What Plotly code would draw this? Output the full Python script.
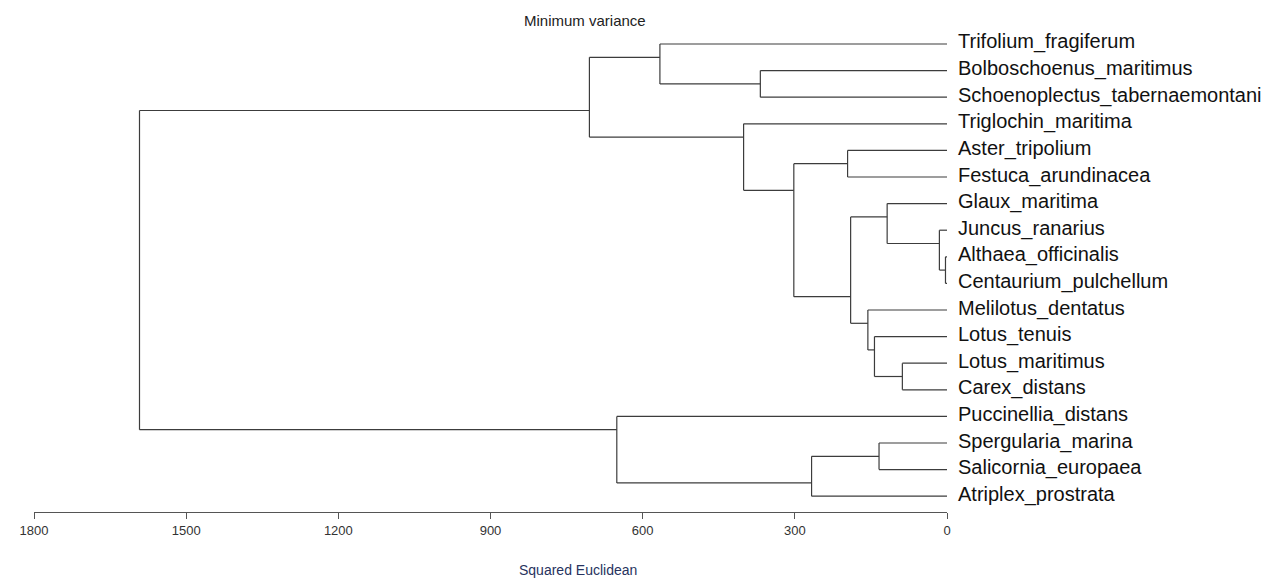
import plotly.graph_objects as go

# ---- data ----
leaf_names = [
    "Trifolium_fragiferum", "Bolboschoenus_maritimus", "Schoenoplectus_tabernaemontani",
    "Triglochin_maritima", "Aster_tripolium", "Festuca_arundinacea", "Glaux_maritima",
    "Juncus_ranarius", "Althaea_officinalis", "Centaurium_pulchellum", "Melilotus_dentatus",
    "Lotus_tenuis", "Lotus_maritimus", "Carex_distans", "Puccinellia_distans",
    "Spergularia_marina", "Salicornia_europaea", "Atriplex_prostrata",
]
# merges: children are leaf names or earlier cluster ids "c<k>"
merge_left = [
    "Althaea_officinalis", "Juncus_ranarius", "Glaux_maritima", "Lotus_maritimus",
    "Lotus_tenuis", "Melilotus_dentatus", "c2", "Aster_tripolium", "c7",
    "Triglochin_maritima", "Bolboschoenus_maritimus", "Trifolium_fragiferum", "c11",
    "Spergularia_marina", "c13", "Puccinellia_distans", "c12",
]
merge_right = [
    "Centaurium_pulchellum", "c0", "c1", "Carex_distans", "c3", "c4", "c5",
    "Festuca_arundinacea", "c6", "c8", "Schoenoplectus_tabernaemontani", "c10", "c9",
    "Salicornia_europaea", "Atriplex_prostrata", "c14", "c15",
]
merge_height = [3, 15, 118, 88, 143, 156, 190, 196, 302, 401, 368, 566, 705,
                134, 267, 651, 1592]

x_ticks = [1800, 1500, 1200, 900, 600, 300, 0]

# ---- dendrogram geometry ----
pos, height, span = {}, {}, {}
for i, n in enumerate(leaf_names):
    pos[n], height[n], span[n] = i, 0.0, (i, i)

xs, ys = [], []
for k, (a, b, h) in enumerate(zip(merge_left, merge_right, merge_height)):
    cid = f"c{k}"
    if span[a][0] > span[b][0]:
        a, b = b, a
    # node sits on the boundary between the two children
    p = (span[a][1] + span[b][0]) / 2.0
    xs += [h, h, None]
    ys += [pos[a], pos[b], None]
    for c in (a, b):
        xs += [height[c], h, None]
        ys += [pos[c], pos[c], None]
    pos[cid], height[cid] = p, h
    span[cid] = (min(span[a][0], span[b][0]), max(span[a][1], span[b][1]))

fig = go.Figure()
fig.add_trace(go.Scatter(
    x=xs, y=ys, mode="lines",
    line=dict(color="#3c3c3c", width=1.2),
    hoverinfo="skip", showlegend=False,
))

for i, n in enumerate(leaf_names):
    fig.add_annotation(
        x=1, xref="paper", y=i, yref="y", text=n, showarrow=False,
        xanchor="left", yanchor="middle", xshift=9, yshift=2,
        font=dict(family="Liberation Sans, Arial, sans-serif", size=20, color="#111111"),
    )

fig.add_annotation(
    x=0.604, xref="paper", y=1.0, yref="paper", text="Minimum variance",
    showarrow=False, xanchor="center", yanchor="middle",
    font=dict(family="Liberation Sans, Arial, sans-serif", size=15, color="#222222"),
)
fig.add_annotation(
    x=0.5955, xref="paper", y=-0.118, yref="paper", text="Squared Euclidean",
    showarrow=False, xanchor="center", yanchor="middle",
    font=dict(family="Liberation Sans Narrow, Arial Narrow, Liberation Sans, sans-serif",
              size=14, color="#27335e"),
)

# page body has an 8px default margin, so the figure is drawn 8px smaller
fig.update_layout(
    width=1269, height=573,
    margin=dict(l=12, r=330, t=12, b=69),
    paper_bgcolor="white", plot_bgcolor="white",
    xaxis=dict(
        range=[1800, 0], tickvals=x_ticks, ticktext=[str(v) for v in x_ticks],
        showgrid=False, zeroline=False, showline=True, linecolor="#555555", linewidth=1,
        ticks="outside", ticklen=6, tickcolor="#555555", ticklabeloverflow="allow",
        tickfont=dict(family="Liberation Sans Narrow, Arial Narrow, Liberation Sans, sans-serif",
                      size=13, color="#333333"),
    ),
    yaxis=dict(
        range=[17.594, -0.902], showgrid=False, zeroline=False, showline=False,
        showticklabels=False, ticks="",
    ),
)

fig.write_html("out.html")
